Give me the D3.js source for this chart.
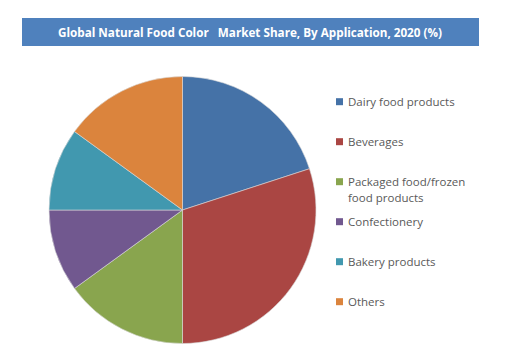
<!DOCTYPE html>
<html><head><meta charset="utf-8">
<script src="https://cdn.jsdelivr.net/npm/d3@7"></script>
<style>body{margin:0;background:#fff}svg{display:block}</style>
</head><body>
<script>
const title = "Global Natural Food Color\u00a0\u00a0 Market Share, By Application, 2020 (%)";
const categories = ["Dairy food products","Beverages","Packaged food/frozen food products","Confectionery","Bakery products","Others"];
const legendLines = [["Dairy food products"],["Beverages"],["Packaged food/frozen","food products"],["Confectionery"],["Bakery products"],["Others"]];
const values = [20,30,15,10,10,15];
const colors = ["#4572A7","#AA4643","#89A54E","#71588F","#4198AF","#DB843D"];

const W=505,H=364;
const svg=d3.select("body").append("svg").attr("width",W).attr("height",H);
svg.append("rect").attr("x",22).attr("y",18).attr("width",457).attr("height",28).attr("fill","#4F81BD");
svg.append("text").attr("x",250).attr("y",36.5).attr("text-anchor","middle")
  .attr("font-family","'Open Sans', sans-serif").attr("font-weight","bold").attr("font-size",11.7)
  .attr("fill","#fff").text(title);

const cx=182.5, cy=210, r=133.5;
const pie=d3.pie().sort(null).value(d=>d)(values);
const arc=d3.arc().innerRadius(0).outerRadius(r);
const g=svg.append("g").attr("transform",`translate(${cx},${cy})`);
g.selectAll("path").data(pie).join("path").attr("d",arc)
  .attr("fill",(d,i)=>colors[i]).attr("stroke","#d8d8d8").attr("stroke-width",0.6);

const ly=d3.scalePoint().domain(categories).range([101.7,301.7]);
const lg=svg.append("g");
categories.forEach((c,i)=>{
  const y=ly(c);
  lg.append("rect").attr("x",336).attr("y",y-3.5).attr("width",7).attr("height",7).attr("fill",colors[i]);
  const t=lg.append("text").attr("x",348).attr("y",y+4).attr("font-family","'Open Sans', sans-serif")
    .attr("font-size",11.5).attr("fill","#595959");
  legendLines[i].forEach((l,j)=>t.append("tspan").attr("x",348).attr("dy",j?16.6:0).text(l));
});
</script>
</body></html>
